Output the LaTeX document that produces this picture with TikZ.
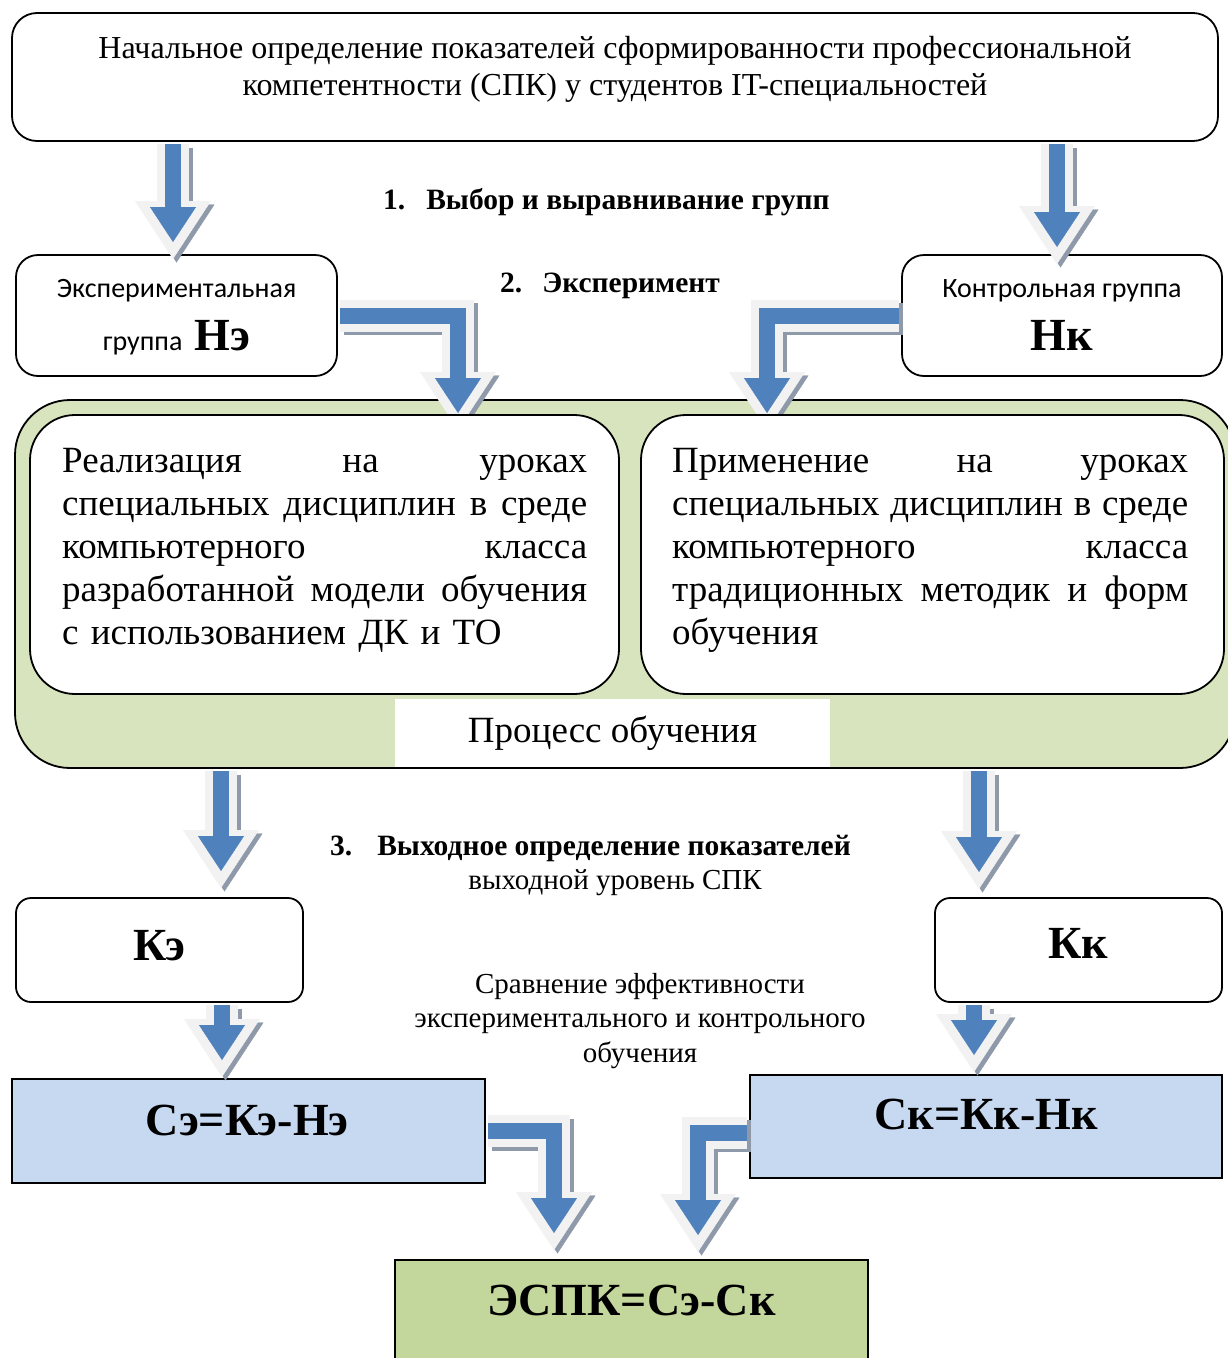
\documentclass[tikz,border=0pt]{standalone}
\usepackage{fontspec}
\setmainfont{Liberation Serif}
\newfontfamily\calibri{Carlito}
\usetikzlibrary{arrows.meta}

\definecolor{procgreen}{HTML}{D7E4BD}
\definecolor{diffblue}{HTML}{C6D9F1}
\definecolor{effgreen}{HTML}{C3D69B}
\definecolor{arrowblue}{HTML}{4F81BD}
\definecolor{rimgray}{HTML}{F2F2F2}
\definecolor{shadowgray}{HTML}{8E99AA}

\newcommand\jline[2]{{\spaceskip=0pt\xspaceskip=0pt\relax\makebox[#1][s]{#2}}}
\newcommand\bigbold{\bfseries\fontsize{46}{50}\selectfont}

\begin{document}
\begin{tikzpicture}[x=1pt, y=-1pt,
        box/.style={draw, line width=1.8pt, inner sep=0pt, outer sep=0pt},
        roundbox/.style={box, fill=white, rounded corners=#1},
        roundbox/.default=22pt,
        steptext/.style={inner sep=0pt, anchor=base},
        fatarrow/.style={
            preaction={draw=shadowgray, line width=32pt, shorten >=-17pt,
                -{Triangle[width=76pt,length=58pt,line width=0.4pt]},
                transform canvas={shift={(3.5pt,-3.5pt)}}},
            preaction={draw=rimgray, line width=32pt, shorten >=-17pt,
                -{Triangle[width=76pt,length=58pt,line width=0.4pt]}},
            draw=arrowblue, line width=16pt, line join=miter, shorten <=3pt,
            -{Triangle[width=46pt,length=35pt,line width=0.4pt]}}]

        \useasboundingbox (0,0) rectangle (1228,1358);

        % boxes of the start
        \node[roundbox=25pt, minimum width=1206pt, minimum height=128pt] (start) at (615,77) {};
        \node[roundbox, minimum width=321pt, minimum height=121pt] (expgr) at (176.5,315.5) {};
        \node[roundbox, minimum width=320pt, minimum height=121pt] (ctlgr) at (1062,315.5) {};

        % learning process
        \node[box, fill=procgreen, rounded corners=55pt, minimum width=1220pt, minimum height=368pt] (process) at (625,584) {};
        \node[box, draw=none, fill=white, minimum width=435pt, minimum height=68pt,
            font=\fontsize{37}{43}\selectfont] (proclabel) at (612.5,733) {Процесс обучения};

        % tip points
        \coordinate (a1) at (173,242);
        \coordinate (a2) at (1057,247);
        \coordinate (a3) at (458,413);
        \coordinate (a4) at (767,413);
        \coordinate (a5) at (221,871);
        \coordinate (a6) at (979,872);
        \coordinate (a7) at (222,1060);
        \coordinate (a8) at (974,1055);
        \coordinate (a9) at (554,1233);
        \coordinate (a10) at (698,1235);

        % choice of groups
        \draw[fatarrow] (a1 |- start.south) -- (a1);
        \draw[fatarrow] (a2 |- start.south) -- (a2);

        % experiment
        \draw[fatarrow] (expgr.east) -| (a3);
        \draw[fatarrow] (ctlgr.west) -| (a4);

        \node[roundbox=45pt, minimum width=589pt, minimum height=279pt] (implexp) at (324.5,554.5) {};
        \node[roundbox=45pt, minimum width=583pt, minimum height=279pt] (implctl) at (932.5,554.5) {};

        % output level
        \node[roundbox=15pt, minimum width=287pt, minimum height=104pt] (kexp) at (159.5,950) {};
        \node[roundbox=15pt, minimum width=287pt, minimum height=104pt] (kctl) at (1078.5,950) {};
        \draw[fatarrow] (a5 |- process.south) -- (a5);
        \draw[fatarrow] (a6 |- process.south) -- (a6);

        % differences
        \node[box, fill=diffblue, minimum width=473pt, minimum height=104pt] (se) at (248.5,1131) {};
        \node[box, fill=diffblue, minimum width=472pt, minimum height=103pt] (sk) at (986,1126.5) {};
        \draw[fatarrow] (a7 |- kexp.south) -- (a7);
        \draw[fatarrow] (a8 |- kctl.south) -- (a8);

        % efficiency
        \node[box, fill=effgreen, minimum width=473pt, minimum height=110pt] (espk) at (631.5,1315) {};
        \draw[fatarrow] (se.east) -| (a9);
        \draw[fatarrow] ([yshift=-6pt]sk.west) -| (a10);

        % texts
        \node[steptext, align=center, font=\fontsize{32}{37}\selectfont] (starttext) at (615,95)
            {Начальное определение показателей сформированности профессиональной\\компетентности (СПК) у студентов IT-специальностей};
        \node[steptext, align=center, font=\calibri\fontsize{28}{53}\selectfont] (exptext) at (176.5,350)
            {Экспериментальная\\группа\hspace{12pt}{\rmfamily\bigbold Нэ}};
        \node[steptext, align=center, font=\calibri\fontsize{28}{53}\selectfont] (ctltext) at (1062,350)
            {Контрольная группа\\{\rmfamily\bigbold Нк}};
        \node[steptext, anchor=base west, font=\bfseries\fontsize{29.5}{34}\selectfont] (step1) at (383,209)
            {1.\hspace{21pt}Выбор и выравнивание групп};
        \node[steptext, anchor=base west, font=\bfseries\fontsize{29.5}{34}\selectfont] (step2) at (500,292)
            {2.\hspace{20pt}Эксперимент};
        \node[steptext, anchor=base west, text width=525pt, align=left, font=\fontsize{37}{43}\selectfont] (impltext) at (62,472)
            {\jline{525pt}{Реализация на уроках}\\\jline{525pt}{специальных дисциплин в среде}\\\jline{525pt}{компьютерного класса}\\\jline{525pt}{разработанной модели обучения}\\с использованием ДК и ТО};
        \node[steptext, anchor=base west, text width=516pt, align=left, font=\fontsize{37}{43}\selectfont] (appltext) at (672,472)
            {\jline{516pt}{Применение на уроках}\\\jline{516pt}{специальных дисциплин в среде}\\\jline{516pt}{компьютерного класса}\\\jline{516pt}{традиционных методик и форм}\\обучения};
        \node[steptext, anchor=base west, font=\bfseries\fontsize{29.5}{34}\selectfont] (step3) at (330,855)
            {3.\hspace{25pt}Выходное определение показателей};
        \node[steptext, font=\fontsize{29}{34}\selectfont] (outlevel) at (615,889) {выходной уровень СПК};
        \node[steptext, align=center, font=\fontsize{29}{34.5}\selectfont] (compare) at (640,1062)
            {Сравнение эффективности\\экспериментального и контрольного\\обучения};
        \node[steptext, font=\bigbold] (kexptext) at (159.5,960) {Кэ};
        \node[steptext, font=\bigbold] (kctltext) at (1078.5,958) {Кк};
        \node[steptext, font=\bigbold] (setext) at (247,1135) {Сэ=Кэ-Нэ};
        \node[steptext, font=\bigbold] (sktext) at (986,1129) {Ск=Кк-Нк};
        \node[steptext, font=\bigbold] (espktext) at (631.5,1315) {ЭСПК=Сэ-Ск};
    \end{tikzpicture}
\end{document}
